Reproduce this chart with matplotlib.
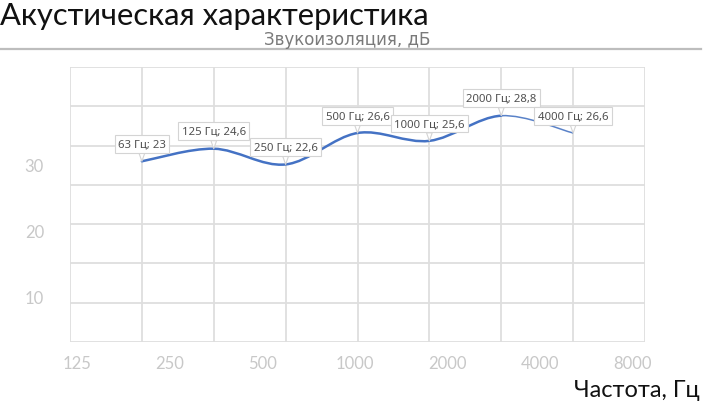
import numpy as np
import matplotlib.pyplot as plt
from matplotlib.path import Path
from matplotlib.patches import PathPatch

# Datos del grafico
frecuencias = ['63', '125', '250', '500', '1000', '2000', '4000']
aislamiento = [23, 24.6, 22.6, 26.6, 25.6, 28.8, 26.6]
etiquetas_x = ['125', '250', '500', '1000', '2000', '4000', '8000']
etiquetas_y = [10, 20, 30]

azul = '#4472C4'
gris_txt = '#c8c8c8'

fig = plt.figure(figsize=(7.03, 4.10), dpi=100)
W, H = 703, 410

# Area del grafico (rejilla tipo Excel)
ax = fig.add_axes([70 / W, 1 - 343 / H, 575 / W, 275 / H])
ax.set_xlim(0, 8)
ax.set_ylim(0, 35)
ax.set_xticks(np.arange(0, 9))
ax.set_yticks(np.arange(0, 36, 5))
ax.grid(True, color='#dedede', lw=1.3)
ax.tick_params(length=0, labelbottom=False, labelleft=False)
for s in ax.spines.values():
    s.set_visible(False)
ax.set_axisbelow(True)

# Curva suavizada (Bezier tipo Catmull-Rom, como en Excel)
xs = np.arange(1, len(aislamiento) + 1, dtype=float)
ys = np.array(aislamiento, dtype=float)
pts = np.column_stack([xs, ys])
ext = np.vstack([pts[0], pts, pts[-1]])


def segmento(i):
    p0, p1, p2, p3 = ext[i], ext[i + 1], ext[i + 2], ext[i + 3]
    c1 = p1 + (p2 - p0) / 6
    c2 = p2 - (p3 - p1) / 6
    return [p1, c1, c2, p2]


verts, codes = [], []
for i in range(len(pts) - 2):
    seg = segmento(i)
    if i == 0:
        verts.append(seg[0])
        codes.append(Path.MOVETO)
    verts += seg[1:]
    codes += [Path.CURVE4] * 3
ax.add_patch(PathPatch(Path(verts, codes), fc='none', ec=azul, lw=1.8,
                       capstyle='round', zorder=3))
# ultimo tramo mas fino
ult = segmento(len(pts) - 2)
ax.add_patch(PathPatch(Path(ult, [Path.MOVETO] + [Path.CURVE4] * 3), fc='none',
                       ec='#5a82c8', lw=1.1, zorder=3))

# Etiquetas de datos tipo globo
for x, y, f in zip(xs, ys, frecuencias):
    txt = f'{f} Гц; {y:g}'.replace('.', ',')
    ax.annotate(txt, xy=(x, y), xytext=(0, 12.5), textcoords='offset points',
                ha='center', va='center', fontsize=8.2, color='#505050',
                family='Noto Sans', zorder=5,
                bbox=dict(boxstyle='square,pad=0.3', fc='white', ec='#d4d4d4', lw=0.8),
                arrowprops=dict(arrowstyle='wedge,tail_width=0.5,shrink_factor=0.5',
                                fc='white', ec='#d4d4d4', lw=0.8,
                                shrinkA=0, shrinkB=0))

# Etiquetas superpuestas del eje X
axx = fig.add_axes([77 / W, 1 - 356 / H, 556 / W, 0.001])
axx.set_xlim(0, 6)
axx.set_xticks(range(len(etiquetas_x)))
axx.set_xticklabels(etiquetas_x, fontsize=12, color=gris_txt, family='Lato')
axx.set_yticks([])
axx.tick_params(length=0, pad=0)
axx.patch.set_visible(False)
for s in axx.spines.values():
    s.set_visible(False)

# Etiquetas superpuestas del eje Y
axy = fig.add_axes([44 / W, 1 - 364.5 / H, 0.001, 199.5 / H])
axy.set_ylim(0, 30)
axy.set_yticks(etiquetas_y)
axy.set_yticklabels([str(v) for v in etiquetas_y], fontsize=12, color=gris_txt, family='Lato')
axy.set_xticks([])
axy.tick_params(length=0, pad=0)
axy.patch.set_visible(False)
for s in axy.spines.values():
    s.set_visible(False)

# Titulos
fig.text(0, 1 - 25 / H, 'Акустическая характеристика', fontsize=22.3, family='Lato',
         color='#111111', ha='left', va='baseline')
fig.text(430 / W, 1 - 45 / H, 'Звукоизоляция, дБ', fontsize=12, family='DejaVu Sans',
         color='#7a7a7a', ha='right', va='baseline')
fig.add_artist(plt.Line2D([0, 701 / W], [1 - 50 / H, 1 - 50 / H], color='#bdbdbd', lw=1.6))
fig.text(700 / W, 1 - 397 / H, 'Частота, Гц', fontsize=17, family='Lato',
         color='#111111', ha='right', va='baseline')

fig.savefig('out.png', dpi=100, facecolor='white')
